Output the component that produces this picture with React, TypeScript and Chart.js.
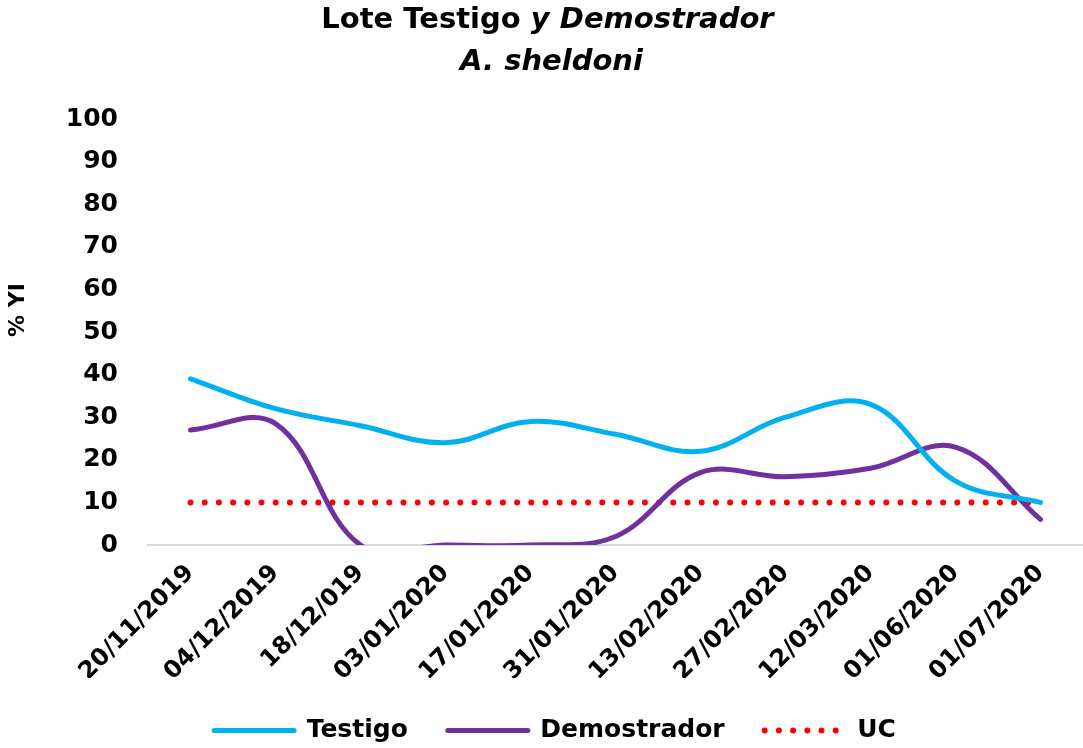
import React, { useEffect, useRef } from "react";
import { Chart, registerables } from "chart.js";

Chart.register(...registerables);

const categories = [
  "20/11/2019",
  "04/12/2019",
  "18/12/019",
  "03/01/2020",
  "17/01/2020",
  "31/01/2020",
  "13/02/2020",
  "27/02/2020",
  "12/03/2020",
  "01/06/2020",
  "01/07/2020",
];
const testigo = [39, 32, 28, 24, 29, 26, 22, 30, 33, 15, 10];
const demostrador = [27, 28.5, 0, 0, 0, 2, 17, 16, 18, 23, 6];
const uc = [10, 10, 10, 10, 10, 10, 10, 10, 10, 10, 10];
const yMin = 0;
const yMax = 100;
const yStep = 10;

const FONT = "'DejaVu Sans'";

const titlePlugin = {
  id: "customTitle",
  afterDraw(chart: any) {
    const ctx = chart.ctx;
    ctx.save();
    ctx.fillStyle = "#000";
    ctx.textBaseline = "alphabetic";
    const f1 = `bold 29px ${FONT}`;
    const f2 = `italic bold 29px ${FONT}`;
    const a = "Lote Testigo ";
    const b = "y Demostrador";
    ctx.font = f1;
    const wa = ctx.measureText(a).width;
    ctx.font = f2;
    const wb = ctx.measureText(b).width;
    const cx = chart.width / 2 + 6;
    const x0 = cx - (wa + wb) / 2;
    ctx.textAlign = "left";
    ctx.font = f1;
    ctx.fillText(a, x0, 28);
    ctx.font = f2;
    ctx.fillText(b, x0 + wa, 28);
    ctx.textAlign = "center";
    ctx.fillText("A. sheldoni", cx + 4, 70);

    ctx.translate(18, 310);
    ctx.rotate(-Math.PI / 2);
    ctx.font = `bold 22px ${FONT}`;
    ctx.textAlign = "center";
    ctx.textBaseline = "middle";
    ctx.fillText("% YI", 0, 0);
    ctx.restore();
  },
};

export default function App() {
  const canvasRef = useRef<HTMLCanvasElement | null>(null);

  useEffect(() => {
    if (!canvasRef.current) return;
    const chart = new Chart(canvasRef.current, {
      type: "line",
      data: {
        labels: categories,
        datasets: [
          {
            label: "Testigo",
            data: testigo,
            borderColor: "#00B0F0",
            backgroundColor: "#00B0F0",
            borderWidth: 5,
            tension: 0.38,
            pointRadius: 0,
            borderCapStyle: "round",
            borderJoinStyle: "round",
          },
          {
            label: "Demostrador",
            data: demostrador,
            borderColor: "#7030A0",
            backgroundColor: "#7030A0",
            borderWidth: 5,
            tension: 0.38,
            pointRadius: 0,
            borderCapStyle: "round",
            borderJoinStyle: "round",
          },
          {
            label: "UC",
            data: uc,
            borderColor: "#FF0000",
            backgroundColor: "#FF0000",
            borderWidth: 6,
            borderDash: [0, 14.2],
            borderCapStyle: "round",
            tension: 0,
            pointRadius: 0,
          },
        ],
      },
      options: {
        animation: false,
        responsive: true,
        maintainAspectRatio: false,
        elements: { line: { capBezierPoints: false } },
        layout: { padding: { top: 119, left: 27, right: 0, bottom: -5 } },
        plugins: {
          title: { display: false },
          tooltip: { enabled: false },
          legend: {
            position: "bottom",
            labels: {
              usePointStyle: true,
              pointStyleWidth: 80,
              boxHeight: 6,
              padding: 40,
              color: "#000",
              font: { family: FONT, size: 25, weight: "bold", lineHeight: 1 },
              generateLabels: (c: any) =>
                c.data.datasets.map((ds: any, i: number) => ({
                  text: ds.label,
                  fillStyle: ds.borderColor,
                  strokeStyle: ds.borderColor,
                  lineWidth: ds.borderWidth,
                  lineDash: ds.borderDash || [],
                  lineCap: "round",
                  pointStyle: "line",
                  hidden: false,
                  datasetIndex: i,
                  fontColor: "#000",
                })),
            },
          },
        },
        scales: {
          x: {
            offset: true,
            grid: { display: false, drawTicks: false },
            border: { display: true, color: "#D9D9D9", width: 2 },
            ticks: {
              color: "#000",
              font: { family: FONT, size: 24, weight: "bold" },
              minRotation: 45,
              maxRotation: 45,
              padding: 14,
              autoSkip: false,
            },
            afterFit: (s: any) => {
              s.height = 133;
            },
          },
          y: {
            min: yMin,
            max: yMax,
            grid: { display: false, drawTicks: false },
            border: { display: false },
            ticks: {
              stepSize: yStep,
              color: "#000",
              font: { family: FONT, size: 25, weight: "bold" },
              padding: 30,
            },
            afterFit: (s: any) => {
              s.width = 121;
            },
          },
        },
      },
      plugins: [titlePlugin],
    });
    return () => chart.destroy();
  }, []);

  return (
    <div style={{ position: "fixed", left: 0, top: 0, width: 1083, height: 748, background: "#fff" }}>
      <canvas ref={canvasRef} />
    </div>
  );
}
